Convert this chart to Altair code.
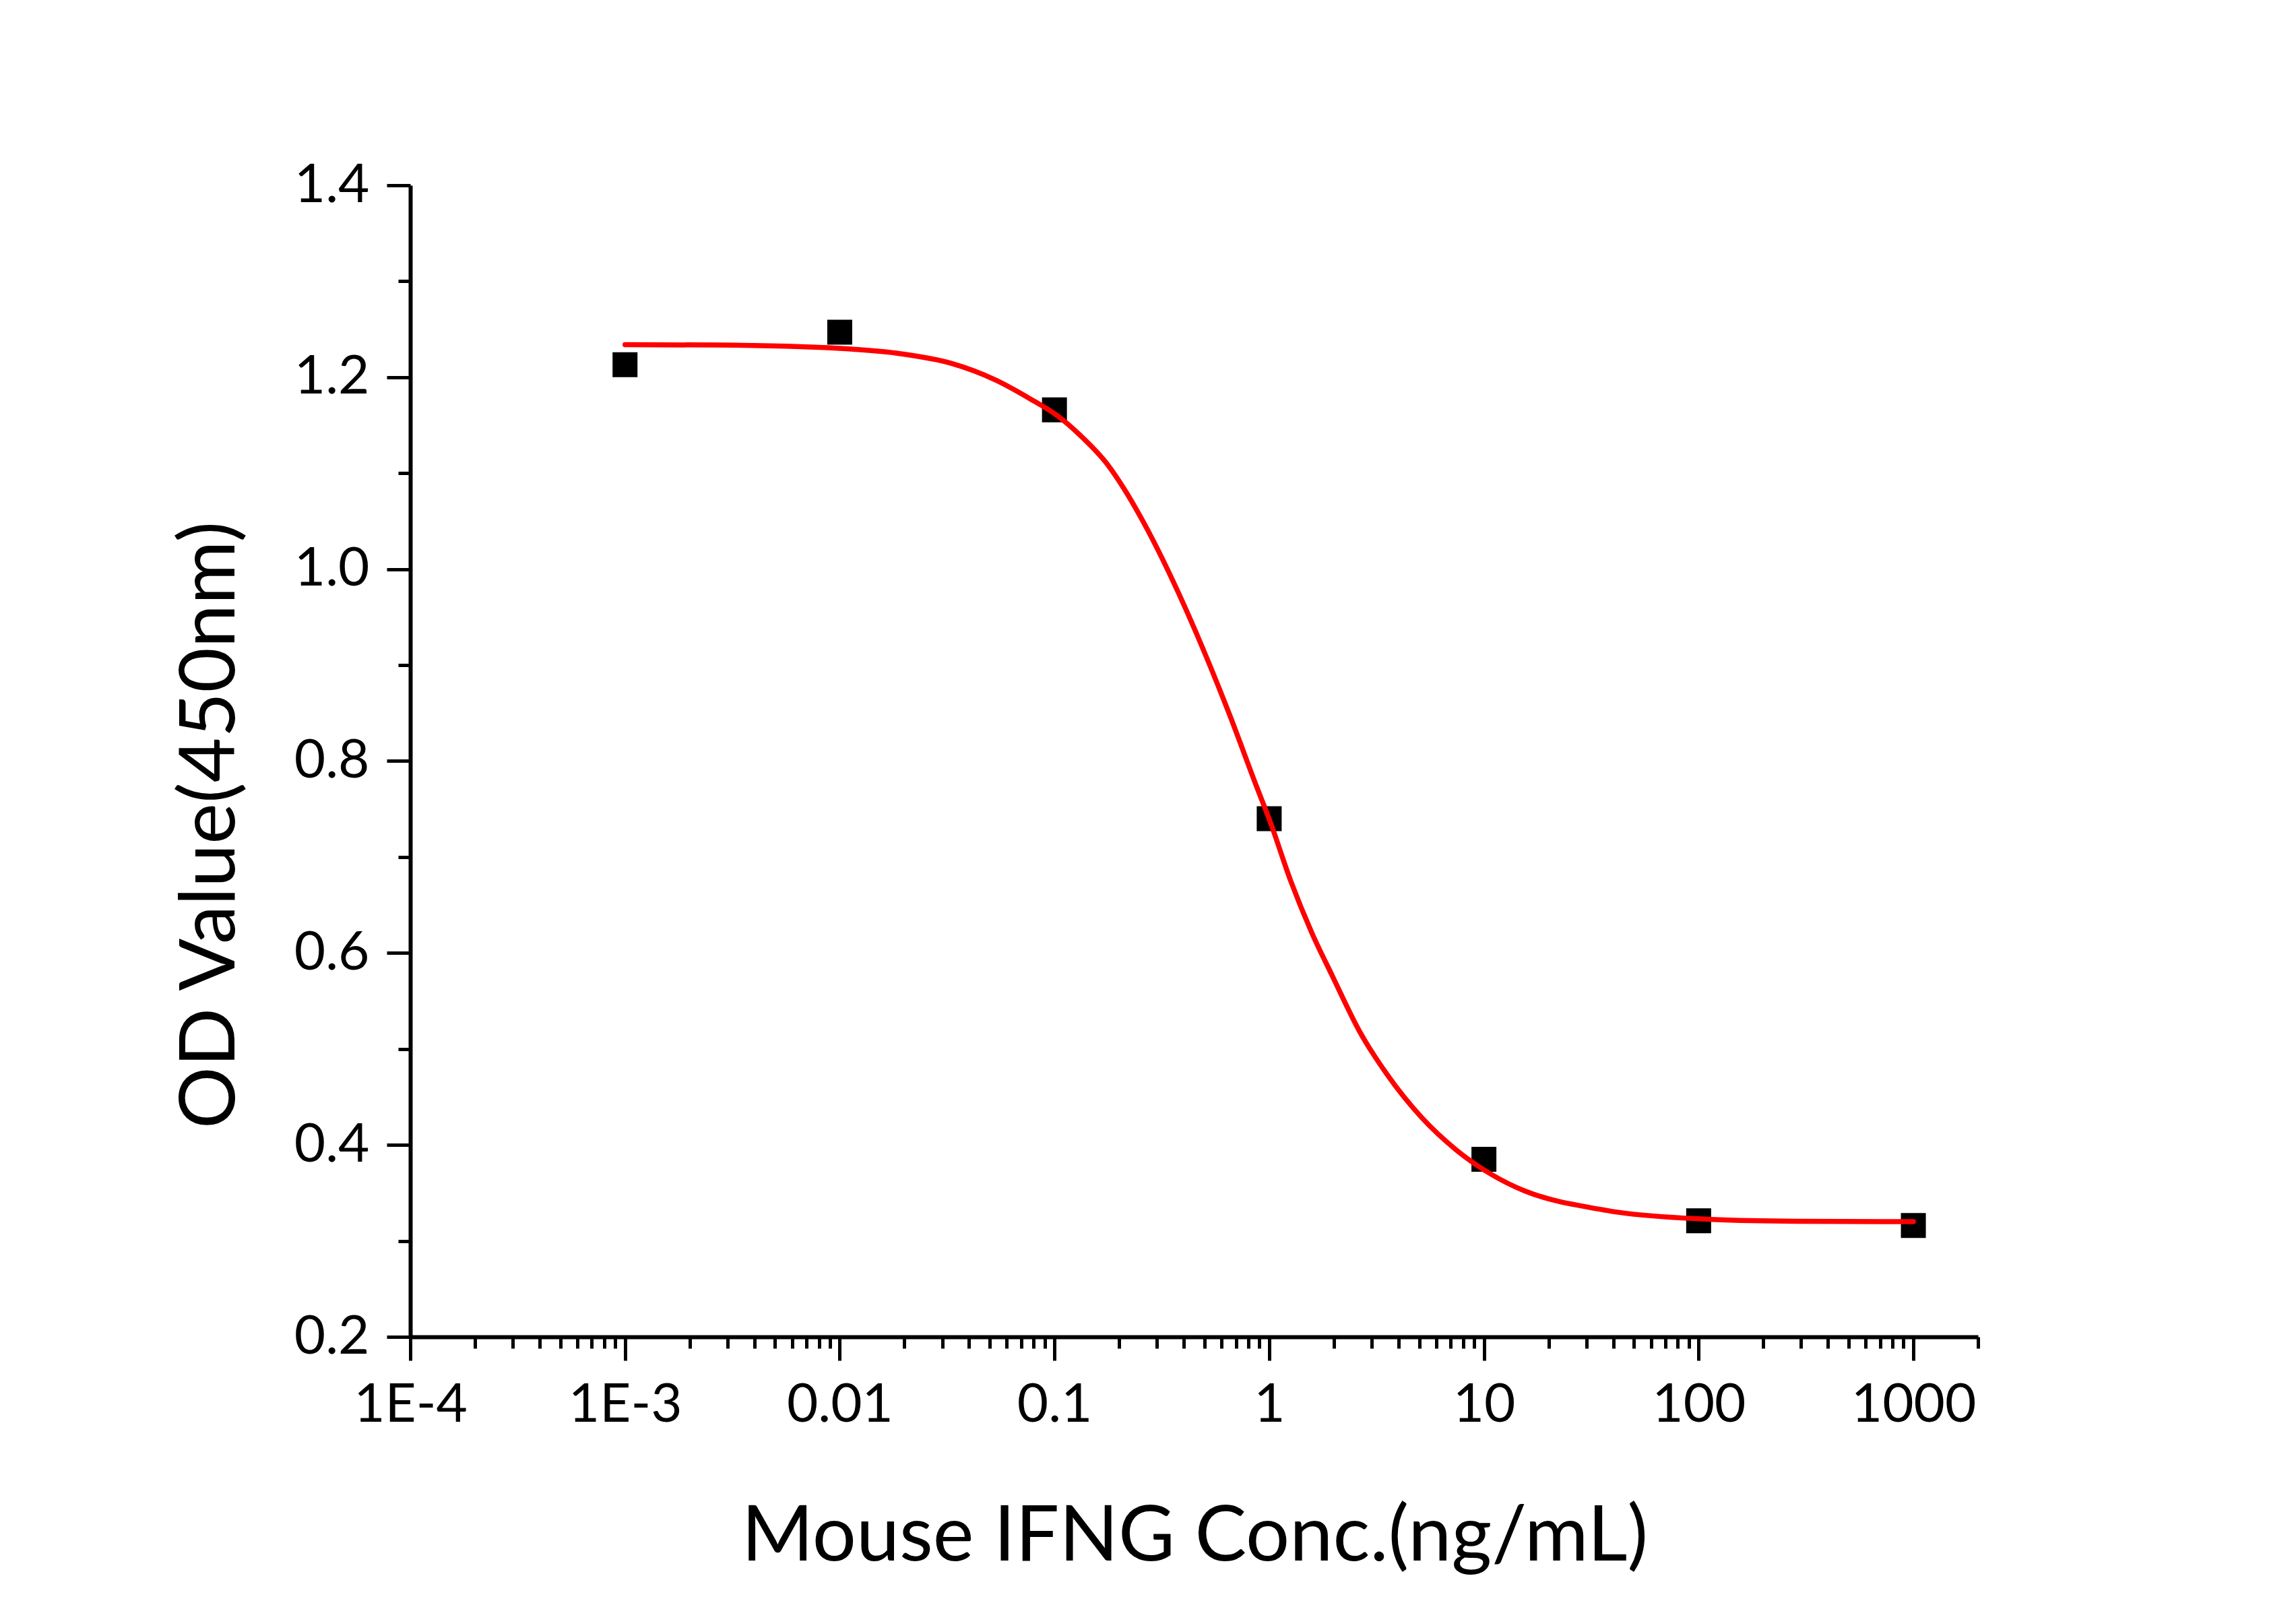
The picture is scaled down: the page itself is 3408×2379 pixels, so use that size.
import altair as alt
import pandas as pd

# measured points
conc = [0.001, 0.01, 0.1, 1, 10, 100, 1000]
od = [1.213, 1.247, 1.166, 0.740, 0.385, 0.321, 0.316]

# fitted curve
curve_conc = [0.001, 0.00267, 0.01, 0.0192, 0.033, 0.0533, 0.0764, 0.103, 0.131,
              0.177, 0.211, 0.261, 0.404, 0.522, 0.652, 0.875, 1.01, 1.26, 1.58,
              1.97, 2.64, 3.55, 5.13, 7.41, 10.7, 15.5, 22.4, 29.2, 41.7, 100,
              286, 1000]
curve_od = [1.234, 1.2335, 1.230, 1.2245, 1.2145, 1.197, 1.178, 1.160, 1.140,
            1.1088, 1.0837, 1.048, 0.961, 0.903, 0.849, 0.773, 0.737, 0.675, 0.621,
            0.576, 0.518, 0.473, 0.4285, 0.395, 0.370, 0.352, 0.341, 0.336, 0.330,
            0.323, 0.3205, 0.320]

x_major = [0.0001, 0.001, 0.01, 0.1, 1, 10, 100, 1000]
x_labels = ["1E-4", "1E-3", "0.01", "0.1", "1", "10", "100", "1000"]
x_minor_mult = [2, 3, 4, 5, 6, 7, 8, 9]
x_end = 2000

y_major = [0.2, 0.4, 0.6, 0.8, 1.0, 1.2, 1.4]
y_minor = [0.3, 0.5, 0.7, 0.9, 1.1, 1.3]

x_values = list(x_major)
for d in x_major[:-1]:
    x_values += [m * d for m in x_minor_mult]
x_values.append(x_end)
y_values = sorted(y_major + y_minor)

pts = pd.DataFrame({"conc": conc, "od": od})
crv = pd.DataFrame({"conc": curve_conc, "od": curve_od})

xmaj_js = "[" + ",".join(repr(v) for v in x_major) + "]"
xlab_js = "[" + ",".join("'" + s + "'" for s in x_labels) + "]"
ymaj_js = "[" + ",".join(repr(v) for v in y_major) + "]"

x_test = f"indexof({xmaj_js}, datum.value) >= 0"
y_test = f"indexof({ymaj_js}, datum.value) >= 0"

FONT = "Lato"

x_axis = alt.Axis(
    values=x_values,
    labelExpr=f"indexof({xmaj_js}, datum.value) >= 0 ? {xlab_js}[indexof({xmaj_js}, datum.value)] : ''",
    tickSize={"condition": {"test": x_test, "value": 35}, "value": 17},
    tickWidth=5, tickColor="black",
    domainWidth=6, domainColor="black",
    labelFont=FONT, labelFontSize=80, labelColor="black", labelPadding=27,
    labelOverlap=False, labelFlush=False, labelBound=False, labelLimit=0,
    grid=False,
    title="Mouse IFNG Conc.(ng/mL)", titleFont=FONT, titleFontSize=115,
    titleFontWeight="normal", titleColor="black",
    titleX=1164, titleY=331, titleAlign="center", titleBaseline="alphabetic",
    titleLimit=0,
)

y_axis = alt.Axis(
    values=y_values,
    labelExpr=f"indexof({ymaj_js}, datum.value) >= 0 ? format(datum.value, '.1f') : ''",
    tickSize={"condition": {"test": y_test, "value": 35}, "value": 18},
    tickWidth=5, tickColor="black",
    domainWidth=6, domainColor="black",
    labelFont=FONT, labelFontSize=80, labelColor="black", labelPadding=26,
    labelOverlap=False, labelFlush=False, labelBound=False, labelLimit=0,
    grid=False,
    title="OD Value(450nm)", titleFont=FONT, titleFontSize=115,
    titleFontWeight="normal", titleColor="black",
    titleAngle=270, titleX=-262, titleY=949, titleAlign="center",
    titleBaseline="alphabetic", titleLimit=0,
)

xs = alt.Scale(type="log", domain=[0.0001, 2000], nice=False)
ys = alt.Scale(domain=[0.2, 1.4], nice=False, zero=False)

points = alt.Chart(pts).mark_square(size=1370, color="black", opacity=1, filled=True).encode(
    x=alt.X("conc:Q", scale=xs, axis=x_axis),
    y=alt.Y("od:Q", scale=ys, axis=y_axis),
)

line = alt.Chart(crv).mark_line(color="#FF0000", strokeWidth=7.5, interpolate="monotone",
                                strokeCap="round").encode(
    x=alt.X("conc:Q", scale=xs),
    y=alt.Y("od:Q", scale=ys),
)

chart = alt.layer(points, line).properties(
    width=2327, height=1709,
    autosize=alt.AutoSizeParams(type="none"),
    padding={"left": 601, "top": 267, "right": 400, "bottom": 380},
    background="white",
).configure_view(strokeWidth=0)

chart.save("out.html", embed_options={"renderer": "svg", "actions": False})
